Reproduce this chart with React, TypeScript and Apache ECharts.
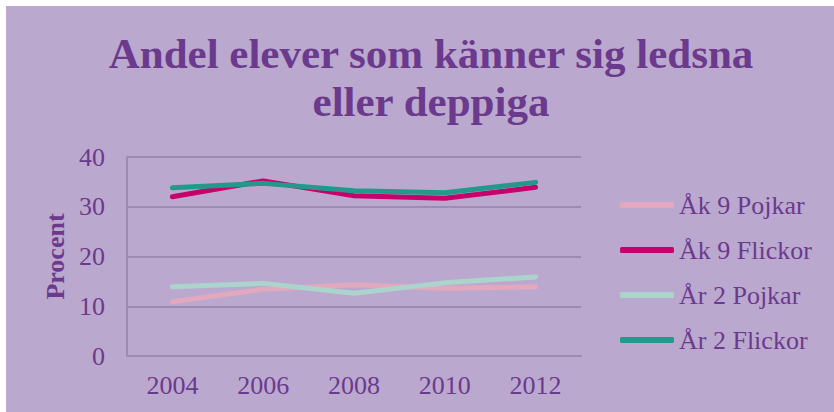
import React, { useEffect, useRef } from "react";
import * as echarts from "echarts";

const years = ["2004", "2006", "2008", "2010", "2012"];
const ak9Pojkar = [10.9, 13.4, 14.3, 13.6, 13.9];
const ak9Flickor = [32.0, 35.2, 32.2, 31.7, 33.9];
const ar2Pojkar = [13.9, 14.6, 12.6, 14.7, 15.9];
const ar2Flickor = [33.8, 34.7, 33.2, 32.8, 34.9];
const seriesNames = ["Åk 9 Pojkar", "Åk 9 Flickor", "År 2 Pojkar", "År 2 Flickor"];
const seriesColors = ["#E2A9BE", "#C7006B", "#AAD4CC", "#22998B"];
const titleText = "Andel elever som känner sig ledsna\neller deppiga";

const TEXT = "#6B3A8D";
const GRIDC = "#9E8BB1";
const FONT = "'Liberation Serif', 'Times New Roman', serif";

export default function App() {
  const ref = useRef<HTMLDivElement>(null);
  useEffect(() => {
    document.body.style.margin = "0";
    const chart = echarts.init(ref.current!, null, { renderer: "svg" });
    const datas = [ak9Pojkar, ak9Flickor, ar2Pojkar, ar2Flickor];
    chart.setOption({
      animation: false,
      backgroundColor: "#BBA8CF",
      title: {
        text: titleText,
        left: 420,
        top: 18,
        textAlign: "center",
        textStyle: {
          fontFamily: FONT,
          fontWeight: "bold",
          fontSize: 43,
          lineHeight: 48,
          color: TEXT,
        },
      },
      legend: {
        orient: "vertical",
        left: 609,
        top: 179,
        icon: "roundRect",
        itemWidth: 54,
        itemHeight: 6,
        itemGap: 15,
        data: seriesNames,
        textStyle: { fontFamily: FONT, fontSize: 26, color: TEXT, lineHeight: 30 },
      },
      grid: { left: 121, top: 151, width: 454, height: 199 },
      xAxis: {
        type: "category",
        data: years,
        boundaryGap: true,
        axisLine: { show: true, lineStyle: { color: GRIDC, width: 2 } },
        axisTick: { show: false },
        axisLabel: { fontFamily: FONT, fontSize: 26, color: TEXT, margin: 16 },
      },
      yAxis: {
        type: "value",
        min: 0,
        max: 40,
        interval: 10,
        name: "Procent",
        nameLocation: "middle",
        nameRotate: 90,
        nameGap: 58,
        nameTextStyle: { fontFamily: FONT, fontSize: 26, fontWeight: "bold", color: TEXT },
        axisLine: { show: true, lineStyle: { color: GRIDC, width: 2 } },
        axisTick: { show: false },
        axisLabel: { fontFamily: FONT, fontSize: 26, color: TEXT, margin: 22 },
        splitLine: { show: true, lineStyle: { color: GRIDC, width: 2 } },
      },
      series: seriesNames.map((n, i) => ({
        name: n,
        type: "line",
        data: datas[i],
        symbol: "none",
        color: seriesColors[i],
        lineStyle: { width: 5, color: seriesColors[i], cap: "round", join: "round" },
        itemStyle: { color: seriesColors[i] },
      })),
    });
    return () => chart.dispose();
  }, []);
  return (
    <div style={{ width: 834, height: 412, background: "#ffffff", position: "relative" }}>
      <div ref={ref} style={{ position: "absolute", left: 6, top: 6, width: 828, height: 406 }} />
    </div>
  );
}
